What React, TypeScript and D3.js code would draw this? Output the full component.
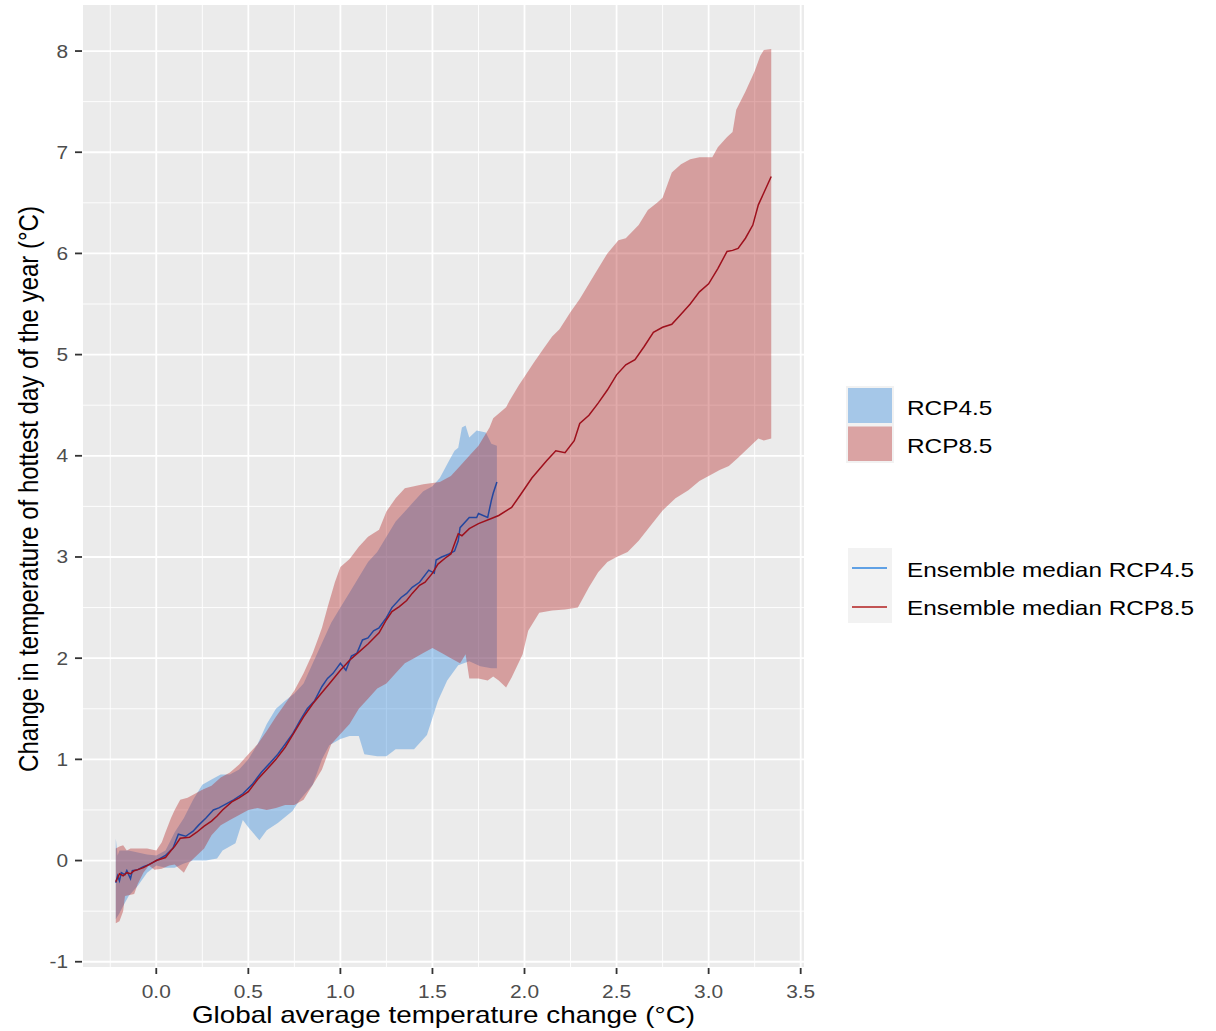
import React, { useMemo } from "react";
import * as d3 from "d3";

// ribbon boundaries, [global dT, hottest-day dT]
const rcp85Upper: [number, number][] = [
  [-0.22, 0.12], [-0.2, 0.14], [-0.18, 0.15], [-0.16, 0.1], [-0.14, 0.12], [-0.1, 0.12], [-0.05, 0.12],
  [0, 0.1], [0.03, 0.18], [0.05, 0.28], [0.08, 0.42], [0.1, 0.5], [0.13, 0.6], [0.17, 0.62], [0.2, 0.65],
  [0.25, 0.7], [0.3, 0.74], [0.35, 0.82], [0.4, 0.87], [0.45, 0.95], [0.5, 1.05], [0.55, 1.15], [0.6, 1.28],
  [0.65, 1.42], [0.7, 1.55], [0.75, 1.68], [0.8, 1.85], [0.85, 2.05], [0.88, 2.2], [0.9, 2.3], [0.93, 2.5],
  [0.97, 2.75], [1.0, 2.9], [1.05, 2.98], [1.1, 3.1], [1.15, 3.2], [1.21, 3.27], [1.25, 3.45], [1.3, 3.58],
  [1.35, 3.68], [1.45, 3.72], [1.54, 3.74], [1.6, 3.8], [1.65, 3.9], [1.7, 4.0], [1.75, 4.1], [1.81, 4.28],
  [1.83, 4.37], [1.9, 4.48], [1.92, 4.55], [1.97, 4.7], [2.0, 4.78], [2.05, 4.92], [2.1, 5.05], [2.15, 5.18],
  [2.19, 5.25], [2.25, 5.42], [2.3, 5.55], [2.35, 5.7], [2.4, 5.85], [2.45, 6.0], [2.51, 6.13], [2.55, 6.15],
  [2.62, 6.28], [2.67, 6.43], [2.72, 6.5], [2.75, 6.55], [2.8, 6.8], [2.85, 6.88], [2.9, 6.93], [2.95, 6.95],
  [3.02, 6.95], [3.05, 7.05], [3.1, 7.15], [3.13, 7.2], [3.15, 7.42], [3.2, 7.6], [3.25, 7.8], [3.28, 7.95],
  [3.3, 8.01], [3.34, 8.02],
];

const rcp85Lower: [number, number][] = [
  [-0.22, -0.62], [-0.2, -0.6], [-0.18, -0.5], [-0.17, -0.35], [-0.12, -0.33], [-0.1, -0.23], [-0.07, -0.12],
  [-0.04, -0.05], [-0.01, -0.09], [0.03, -0.08], [0.07, -0.05], [0.1, -0.04], [0.15, -0.12], [0.18, -0.02],
  [0.22, 0.05], [0.26, 0.12], [0.3, 0.25], [0.35, 0.35], [0.4, 0.4], [0.45, 0.45], [0.5, 0.5], [0.55, 0.52],
  [0.6, 0.5], [0.65, 0.52], [0.7, 0.55], [0.75, 0.55], [0.8, 0.6], [0.85, 0.75], [0.9, 0.9], [0.95, 1.15],
  [1.0, 1.25], [1.05, 1.35], [1.1, 1.5], [1.15, 1.6], [1.2, 1.7], [1.25, 1.75], [1.3, 1.85], [1.35, 1.95],
  [1.4, 2.0], [1.45, 2.05], [1.5, 2.1], [1.55, 2.05], [1.6, 2.0], [1.65, 1.95], [1.68, 2.04], [1.7, 1.8],
  [1.75, 1.8], [1.8, 1.78], [1.83, 1.82], [1.86, 1.78], [1.9, 1.71], [1.93, 1.81], [1.99, 2.04], [2.02, 2.27],
  [2.08, 2.45], [2.15, 2.47], [2.22, 2.48], [2.29, 2.5], [2.35, 2.7], [2.4, 2.85], [2.45, 2.95], [2.5, 3.0],
  [2.56, 3.05], [2.62, 3.16], [2.68, 3.3], [2.75, 3.46], [2.82, 3.58], [2.89, 3.66], [2.95, 3.75], [3.0, 3.8],
  [3.06, 3.86], [3.11, 3.9], [3.16, 3.98], [3.2, 4.05], [3.24, 4.12], [3.27, 4.17], [3.3, 4.15], [3.34, 4.17],
];

const rcp45Upper: [number, number][] = [
  [-0.22, 0.22], [-0.21, 0.05], [-0.2, 0.1], [-0.15, 0.1], [-0.1, 0.08], [-0.05, 0.06], [0, 0.05], [0.05, 0.1],
  [0.1, 0.28], [0.15, 0.42], [0.2, 0.6], [0.25, 0.75], [0.3, 0.8], [0.35, 0.85], [0.4, 0.85], [0.45, 0.9],
  [0.5, 1.0], [0.55, 1.15], [0.6, 1.35], [0.65, 1.5], [0.7, 1.58], [0.75, 1.65], [0.8, 1.75], [0.85, 1.95],
  [0.9, 2.15], [0.95, 2.35], [1.0, 2.5], [1.05, 2.65], [1.1, 2.8], [1.15, 2.95], [1.2, 3.05], [1.25, 3.2],
  [1.3, 3.35], [1.35, 3.45], [1.4, 3.55], [1.45, 3.65], [1.5, 3.7], [1.54, 3.78], [1.59, 3.95], [1.62, 4.05],
  [1.64, 4.08], [1.66, 4.28], [1.68, 4.3], [1.7, 4.18], [1.74, 4.25], [1.79, 4.23], [1.82, 4.12], [1.85, 4.1],
];

const rcp45Lower: [number, number][] = [
  [-0.22, -0.58], [-0.2, -0.52], [-0.18, -0.45], [-0.15, -0.35], [-0.1, -0.25], [-0.05, -0.12], [0, -0.05],
  [0.05, -0.07], [0.1, -0.07], [0.15, -0.03], [0.2, 0.0], [0.27, 0.0], [0.33, 0.02], [0.36, 0.1], [0.43, 0.17],
  [0.47, 0.4], [0.5, 0.33], [0.56, 0.2], [0.6, 0.3], [0.66, 0.37], [0.74, 0.49], [0.78, 0.6], [0.85, 0.75],
  [0.88, 0.9], [0.9, 1.0], [0.94, 1.14], [1.0, 1.2], [1.05, 1.23], [1.1, 1.23], [1.13, 1.05], [1.2, 1.03],
  [1.25, 1.03], [1.3, 1.1], [1.4, 1.1], [1.47, 1.24], [1.53, 1.58], [1.58, 1.78], [1.64, 1.93], [1.7, 1.97],
  [1.76, 1.92], [1.82, 1.9], [1.85, 1.9],
];

// ensemble medians
const median45: [number, number][] = [
  [-0.22, -0.22], [-0.21, -0.15], [-0.2, -0.2], [-0.19, -0.12], [-0.17, -0.14], [-0.16, -0.1], [-0.14, -0.18],
  [-0.13, -0.1], [-0.1, -0.09], [-0.07, -0.06], [-0.04, -0.04], [0, 0], [0.05, 0.05], [0.09, 0.12], [0.12, 0.26],
  [0.16, 0.24], [0.2, 0.29], [0.23, 0.35], [0.27, 0.42], [0.31, 0.5], [0.34, 0.52], [0.38, 0.56], [0.42, 0.6],
  [0.47, 0.66], [0.52, 0.75], [0.57, 0.87], [0.62, 0.97], [0.66, 1.05], [0.7, 1.15], [0.74, 1.25], [0.78, 1.38],
  [0.82, 1.5], [0.86, 1.58], [0.9, 1.72], [0.93, 1.8], [0.96, 1.85], [1.0, 1.95], [1.03, 1.88], [1.06, 2.02],
  [1.09, 2.05], [1.12, 2.18], [1.15, 2.2], [1.18, 2.27], [1.21, 2.3], [1.25, 2.4], [1.28, 2.5], [1.33, 2.6],
  [1.36, 2.64], [1.39, 2.7], [1.43, 2.75], [1.48, 2.87], [1.51, 2.84], [1.52, 2.97], [1.55, 3.0], [1.59, 3.03],
  [1.62, 3.06], [1.64, 3.16], [1.65, 3.29], [1.7, 3.39], [1.74, 3.39], [1.75, 3.43], [1.8, 3.39], [1.82, 3.56],
  [1.83, 3.63], [1.85, 3.74],
];

const median85: [number, number][] = [
  [-0.22, -0.21], [-0.21, -0.17], [-0.2, -0.13], [-0.18, -0.15], [-0.16, -0.12], [-0.14, -0.13], [-0.12, -0.1],
  [-0.1, -0.09], [-0.07, -0.07], [-0.05, -0.05], [-0.02, -0.02], [0, 0], [0.05, 0.03], [0.08, 0.1], [0.1, 0.14],
  [0.13, 0.22], [0.18, 0.23], [0.22, 0.28], [0.26, 0.34], [0.3, 0.39], [0.33, 0.44], [0.36, 0.5], [0.41, 0.58],
  [0.45, 0.62], [0.5, 0.68], [0.55, 0.8], [0.6, 0.9], [0.65, 1.0], [0.7, 1.12], [0.75, 1.27], [0.8, 1.42],
  [0.85, 1.55], [0.9, 1.66], [0.95, 1.77], [1.0, 1.88], [1.05, 1.98], [1.1, 2.06], [1.15, 2.14], [1.21, 2.25],
  [1.25, 2.38], [1.28, 2.46], [1.32, 2.51], [1.36, 2.57], [1.39, 2.64], [1.43, 2.72], [1.46, 2.75], [1.5, 2.84],
  [1.53, 2.93], [1.57, 2.99], [1.6, 3.03], [1.62, 3.13], [1.64, 3.23], [1.66, 3.21], [1.7, 3.28], [1.75, 3.33],
  [1.82, 3.38], [1.86, 3.41], [1.93, 3.49], [1.98, 3.62], [2.04, 3.78], [2.12, 3.95], [2.17, 4.05], [2.22, 4.03],
  [2.27, 4.15], [2.3, 4.32], [2.35, 4.4], [2.4, 4.52], [2.45, 4.65], [2.5, 4.8], [2.55, 4.9], [2.6, 4.95],
  [2.65, 5.08], [2.7, 5.22], [2.75, 5.27], [2.8, 5.3], [2.85, 5.4], [2.9, 5.5], [2.95, 5.62], [3.0, 5.7],
  [3.05, 5.85], [3.1, 6.02], [3.13, 6.03], [3.16, 6.05], [3.2, 6.15], [3.24, 6.28], [3.27, 6.48], [3.3, 6.6],
  [3.34, 6.76],
];

const xTicks = [0, 0.5, 1, 1.5, 2, 2.5, 3, 3.5];
const yTicks = [-1, 0, 1, 2, 3, 4, 5, 6, 7, 8];
const xMinor = [-0.25, 0.25, 0.75, 1.25, 1.75, 2.25, 2.75, 3.25];
const yMinor = [-0.5, 0.5, 1.5, 2.5, 3.5, 4.5, 5.5, 6.5, 7.5];
const fillLabels = ["RCP4.5", "RCP8.5"];
const lineLabels = ["Ensemble median RCP4.5", "Ensemble median RCP8.5"];

const FONT = "'Liberation Sans', Arial, sans-serif";
const SX = 1.16; // the picture is a little wider than tall

const fill45 = "rgba(60,140,220,0.42)";
const fill85 = "rgba(178,34,34,0.38)";
const line45 = "#24479F";
const line85 = "#9E101C";

export default function App() {
  const width = 1216;
  const height = 1031;
  const panel = { left: 83, right: 804, top: 5, bottom: 967 };

  const x = d3.scaleLinear().domain([-0.398, 3.518]).range([panel.left, panel.right]);
  const y = d3.scaleLinear().domain([-1.052, 8.455]).range([panel.bottom, panel.top]);

  const { poly45, poly85, path45, path85 } = useMemo(() => {
    const ln = d3
      .line<[number, number]>()
      .x((d) => x(d[0]))
      .y((d) => y(d[1]));
    const ribbon = (hi: [number, number][], lo: [number, number][]) =>
      ln(hi.concat(lo.slice().reverse())) + "Z";
    return {
      poly45: ribbon(rcp45Upper, rcp45Lower),
      poly85: ribbon(rcp85Upper, rcp85Lower),
      path45: ln(median45) || "",
      path85: ln(median85) || "",
    };
  }, []);

  const tickCol = "#4D4D4D";

  return (
    <svg width={width} height={height} style={{ position: "absolute", left: 0, top: 0 }}>
      <rect x={0} y={0} width={width} height={height} fill="#ffffff" />
      {/* panel */}
      <rect
        x={panel.left}
        y={panel.top}
        width={panel.right - panel.left}
        height={panel.bottom - panel.top}
        fill="#EBEBEB"
      />
      {xMinor.map((v) => (
        <line key={"xm" + v} x1={x(v)} x2={x(v)} y1={panel.top} y2={panel.bottom} stroke="#fff" strokeWidth={0.9} />
      ))}
      {yMinor.map((v) => (
        <line key={"ym" + v} x1={panel.left} x2={panel.right} y1={y(v)} y2={y(v)} stroke="#fff" strokeWidth={0.9} />
      ))}
      {xTicks.map((v) => (
        <line key={"xg" + v} x1={x(v)} x2={x(v)} y1={panel.top} y2={panel.bottom} stroke="#fff" strokeWidth={1.8} />
      ))}
      {yTicks.map((v) => (
        <line key={"yg" + v} x1={panel.left} x2={panel.right} y1={y(v)} y2={y(v)} stroke="#fff" strokeWidth={1.8} />
      ))}

      <path d={poly45} fill={fill45} stroke="none" />
      <path d={poly85} fill={fill85} stroke="none" />
      <path d={path45} fill="none" stroke={line45} strokeWidth={1.5} />
      <path d={path85} fill="none" stroke={line85} strokeWidth={1.5} />

      {/* axes */}
      {xTicks.map((v) => (
        <g key={"xt" + v}>
          <line x1={x(v)} x2={x(v)} y1={panel.bottom + 1} y2={panel.bottom + 7} stroke="#333" strokeWidth={1.8} />
          <g transform={`translate(${x(v)},998) scale(${SX},1)`}>
            <text textAnchor="middle" fontFamily={FONT} fontSize={18} fill={tickCol}>
              {v.toFixed(1)}
            </text>
          </g>
        </g>
      ))}
      {yTicks.map((v) => (
        <g key={"yt" + v}>
          <line x1={panel.left - 8} x2={panel.left - 1} y1={y(v)} y2={y(v)} stroke="#333" strokeWidth={1.8} />
          <g transform={`translate(68,${y(v) + 6.5}) scale(${SX},1)`}>
            <text textAnchor="end" fontFamily={FONT} fontSize={18} fill={tickCol}>
              {v}
            </text>
          </g>
        </g>
      ))}

      <g transform={`translate(${(panel.left + panel.right) / 2},1023) scale(${SX},1)`}>
        <text textAnchor="middle" fontFamily={FONT} fontSize={24} fill="#000">
          Global average temperature change (°C)
        </text>
      </g>
      <g transform={`translate(38,${(panel.top + panel.bottom) / 2 + 3}) scale(${SX},1) rotate(-90)`}>
        <text textAnchor="middle" fontFamily={FONT} fontSize={24} fill="#000">
          Change in temperature of hottest day of the year (°C)
        </text>
      </g>

      {/* fill legend */}
      <rect x={846} y={386} width={48} height={77} fill="#F2F2F2" />
      <rect x={848} y={388} width={44} height={35} fill={fill45} />
      <rect x={848} y={426.5} width={44} height={34.5} fill={fill85} />
      {fillLabels.map((t, i) => (
        <g key={t} transform={`translate(907,${415 + i * 38}) scale(${SX},1)`}>
          <text fontFamily={FONT} fontSize={21} fill="#000">
            {t}
          </text>
        </g>
      ))}

      {/* line legend */}
      <rect x={848} y={548} width={44} height={75} fill="#F2F2F2" />
      <line x1={852} x2={887} y1={568} y2={568} stroke="#2F86E0" strokeWidth={1.5} />
      <line x1={852} x2={887} y1={607} y2={607} stroke="#B21F1F" strokeWidth={1.5} />
      {lineLabels.map((t, i) => (
        <g key={t} transform={`translate(907,${577 + i * 38}) scale(${SX},1)`}>
          <text fontFamily={FONT} fontSize={21} fill="#000">
            {t}
          </text>
        </g>
      ))}
    </svg>
  );
}
